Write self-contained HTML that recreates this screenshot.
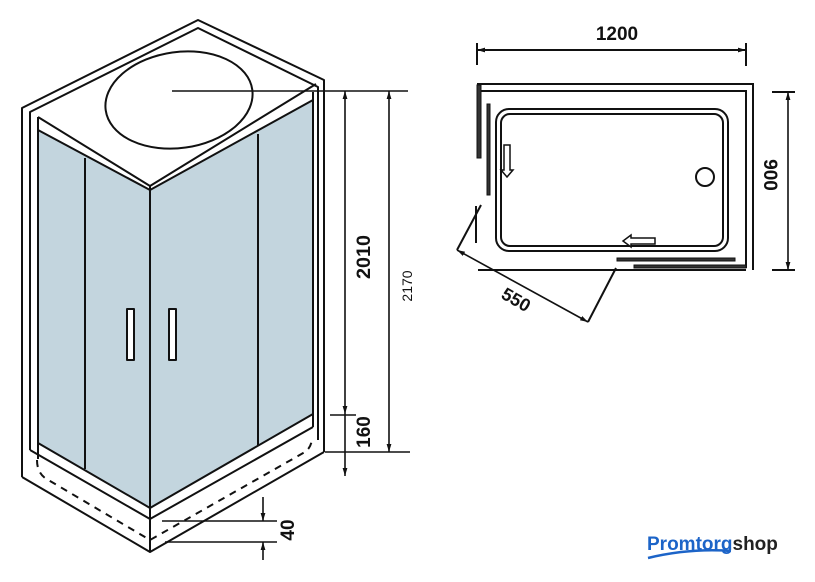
<!DOCTYPE html>
<html><head><meta charset="utf-8"><style>
html,body{margin:0;padding:0;background:#fff;}
svg{display:block;}
</style></head><body>
<svg width="815" height="582" viewBox="0 0 815 582" xmlns="http://www.w3.org/2000/svg">
<defs>
<marker id="ar" viewBox="0 0 10 10" refX="10" refY="5" markerWidth="8" markerHeight="8" orient="auto-start-reverse" markerUnits="userSpaceOnUse"><path d="M0,2 L10,5 L0,8 z" fill="#111"/></marker>
</defs>
<g fill="none" stroke="#111" stroke-width="2" stroke-linejoin="round">
<!-- glass -->
<polygon points="38,130 150,190 150,508 38,443" fill="#c3d5de" stroke="none"/>
<polygon points="150,190 313,100 313,414 150,508" fill="#c3d5de" stroke="none"/>
<!-- outer outline -->
<polyline points="22,477 22,108 198,20 324,80 324,452"/>
<polyline points="22,477 150,552 324,452"/>
<!-- inner back frame -->
<polyline points="30,450 30,112 198,28 318,87 318,440"/>
<!-- top face -->
<polyline points="38,117 150,186 316,84"/>
<line x1="38" y1="117" x2="38" y2="459"/>
<polyline points="38,130 150,190 313,100"/>
<line x1="150" y1="186" x2="150" y2="552"/>
<line x1="313" y1="92" x2="313" y2="427"/>
<!-- glass bottoms -->
<polyline points="38,443 150,508 313,414"/>
<polyline points="30,450 150,519 313,427"/>
<!-- dividers -->
<line x1="85" y1="158" x2="85" y2="469"/>
<line x1="258" y1="134" x2="258" y2="445"/>
<!-- handles -->
<rect x="127" y="309" width="7" height="51" fill="#fff"/>
<rect x="169" y="309" width="7" height="51" fill="#fff"/>
<!-- ellipse -->
<ellipse cx="179" cy="100" rx="74" ry="48" transform="rotate(-8 179 100)" fill="#fff"/>
<!-- dashed -->
<path d="M37,460 Q37,472 45,478 L150,540 L305,452 Q312,447 312,437" stroke-dasharray="7,6"/>
</g>
<g stroke="#111" stroke-width="1.6" fill="none">
<line x1="172" y1="91" x2="408" y2="91"/>
<line x1="345" y1="91" x2="345" y2="414" marker-start="url(#ar)" marker-end="url(#ar)"/>
<line x1="345" y1="414" x2="345" y2="476" marker-end="url(#ar)"/>
<line x1="389" y1="91" x2="389" y2="452" marker-start="url(#ar)" marker-end="url(#ar)"/>
<line x1="330" y1="415" x2="356" y2="415"/>
<line x1="325" y1="452" x2="410" y2="452"/>
<line x1="162" y1="521" x2="277" y2="521"/>
<line x1="165" y1="542" x2="277" y2="542"/>
<line x1="263" y1="497" x2="263" y2="521" marker-end="url(#ar)"/>
<line x1="263" y1="560" x2="263" y2="542" marker-end="url(#ar)"/>
</g>
<g font-family="Liberation Sans, sans-serif" font-weight="bold" fill="#111" text-anchor="middle">
<text transform="translate(370,257) rotate(-90)" font-size="19" textLength="44" lengthAdjust="spacingAndGlyphs">2010</text>
<text transform="translate(370,432) rotate(-90)" font-size="19">160</text>
<text transform="translate(412,286) rotate(-90)" font-size="14" font-weight="normal">2170</text>
<text transform="translate(294,530) rotate(-90)" font-size="19">40</text>
<text x="617" y="40" font-size="19">1200</text>
<text transform="translate(764,175) rotate(90)" font-size="19">900</text>
<text transform="translate(513,305) rotate(30)" font-size="18">550</text>
</g>
<!-- plan view -->
<g stroke="#111" stroke-width="2" fill="none">
<line x1="477" y1="50" x2="746" y2="50" marker-start="url(#ar)" marker-end="url(#ar)"/>
<line x1="477" y1="43" x2="477" y2="65"/>
<line x1="746" y1="43" x2="746" y2="66"/>
<polyline points="477,84 753,84 753,270"/>
<polyline points="480,91 746,91 746,268"/>
<line x1="478" y1="270" x2="746" y2="270"/>
<line x1="476" y1="206" x2="476" y2="243"/>
<rect x="496" y="109" width="232" height="142" rx="13"/>
<rect x="501" y="114" width="222" height="132" rx="9"/>
<circle cx="705" cy="177" r="9"/>
<line x1="481" y1="205" x2="457" y2="250"/>
<line x1="457" y1="250" x2="588" y2="322" marker-start="url(#ar)" marker-end="url(#ar)" stroke-width="1.6"/>
<line x1="588" y1="322" x2="616" y2="268"/>
<line x1="788" y1="92" x2="788" y2="270" marker-start="url(#ar)" marker-end="url(#ar)" stroke-width="1.6"/>
<line x1="772" y1="92" x2="795" y2="92"/>
<line x1="772" y1="270" x2="795" y2="270"/>
</g>
<g fill="#333" stroke="#111" stroke-width="1">
<rect x="477" y="85" width="4" height="73"/>
<rect x="487" y="104" width="3" height="91"/>
<rect x="617" y="258" width="118" height="3"/>
<rect x="634" y="265" width="112" height="3"/>
</g>
<g fill="#fff" stroke="#111" stroke-width="1.5">
<path d="M504,145 L510,145 L510,170 L513,170 L507,177 L501,170 L504,170 z"/>
<path d="M655,238 L655,244 L631,244 L631,247 L623,241 L631,235 L631,238 z"/>
</g>
<text x="647" y="550" font-family="Liberation Sans, sans-serif" font-weight="bold" font-size="19"><tspan fill="#1c64c8">Promtorg</tspan><tspan fill="#222">shop</tspan></text>
<path d="M648,558 Q690,548 731,551" stroke="#1c64c8" stroke-width="2.5" fill="none"/>
</svg>
</body></html>
